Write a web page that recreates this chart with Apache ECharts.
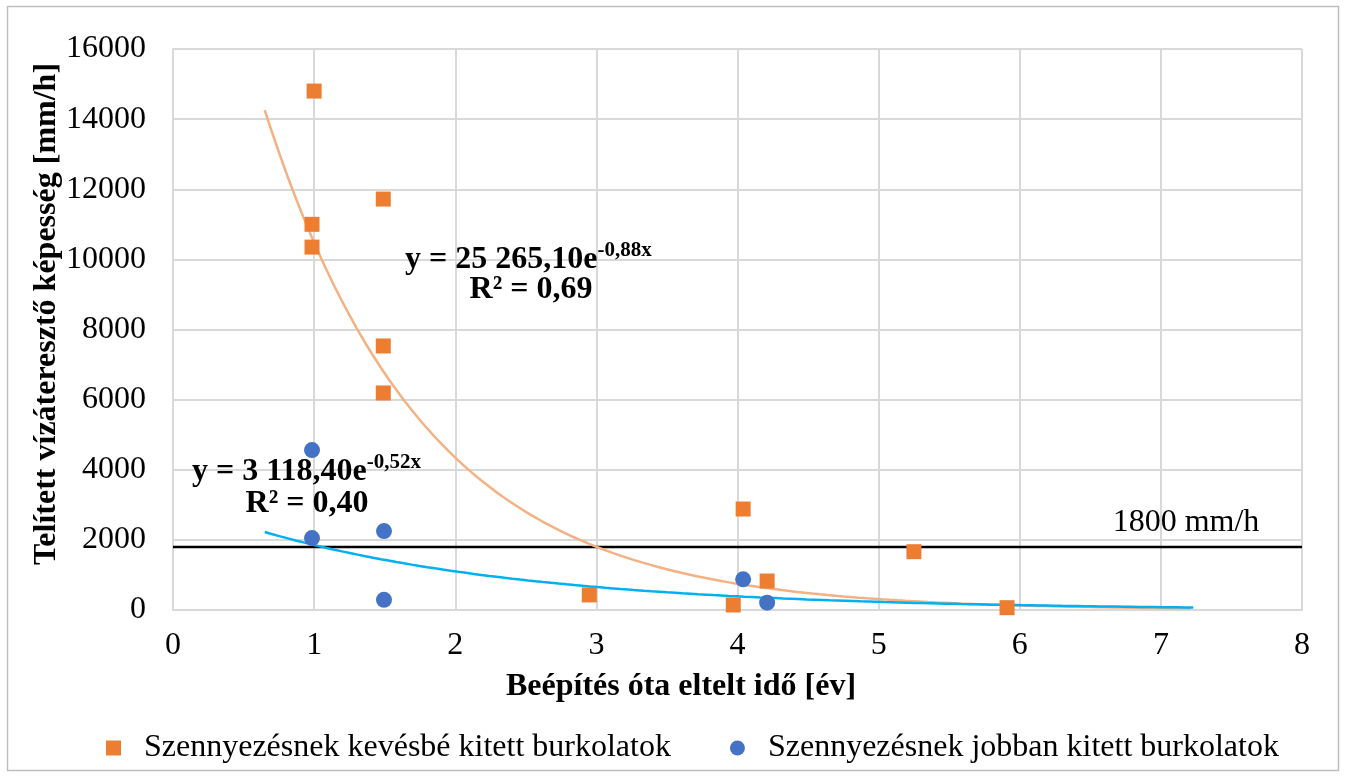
<!DOCTYPE html>
<html><head><meta charset="utf-8">
<script src="https://cdn.jsdelivr.net/npm/echarts@6/dist/echarts.min.js"></script>
<style>html,body{margin:0;padding:0;background:#fff}#c{width:1347px;height:777px}</style>
</head><body><div id="c"></div>
<script>
// Data
const lessX = [1.0, 0.985, 0.985, 1.49, 1.49, 1.49, 2.95, 4.04, 3.97, 4.21, 5.25, 5.91];
const lessY = [14800, 11000, 10350, 11720, 7530, 6190, 430, 2880, 143, 827, 1663, 66];
const moreX = [0.985, 0.985, 1.495, 1.495, 4.04, 4.21];
const moreY = [4560, 2050, 2250, 290, 875, 208];
const lessName = 'Szennyezésnek kevésbé kitett burkolatok';
const moreName = 'Szennyezésnek jobban kitett burkolatok';
// trendline coefficients as printed on the chart
const lessTrend = {a: 25265.10, b: -0.88, from: 0.65, to: 7.21};
const moreTrend = {a: 3118.40, b: -0.52, from: 0.65, to: 7.23};
const threshold = 1800;
const xTicks = [0, 8, 1];
const yTicks = [0, 16000, 2000];

function pairs(xs, ys){ return xs.map((x,i)=>[x, ys[i]]); }
function trend(t){
  const pts=[]; const n=120;
  for(let i=0;i<=n;i++){ const x=t.from+(t.to-t.from)*i/n; pts.push([x, t.a*Math.exp(t.b*x)]); }
  return pts;
}
const F = '"Liberation Serif","Times New Roman",serif';
const chart = echarts.init(document.getElementById('c'), null, {renderer:'canvas'});
chart.setOption({
  animation:false,
  grid:{left:173, top:49, right:45, bottom:167, containLabel:false},
  xAxis:{type:'value', min:xTicks[0], max:xTicks[1], interval:xTicks[2],
    axisLine:{show:true, lineStyle:{color:'#d9d9d9', width:2}}, axisTick:{show:false},
    splitLine:{show:true, lineStyle:{color:'#d9d9d9', width:2}},
    axisLabel:{fontFamily:F, fontSize:32, color:'#000', margin:20, formatter:v=>String(v)}},
  yAxis:{type:'value', min:yTicks[0], max:yTicks[1], interval:yTicks[2],
    axisLine:{show:true, lineStyle:{color:'#d9d9d9', width:2}}, axisTick:{show:false},
    splitLine:{show:true, lineStyle:{color:'#d9d9d9', width:2}},
    axisLabel:{fontFamily:F, fontSize:32, color:'#000', margin:27, formatter:v=>String(v)}},
  legend:{data:[lessName, moreName], top:727, left:101, itemGap:59, itemWidth:15, itemHeight:15,
    textStyle:{fontFamily:F, fontSize:32, color:'#000', padding:[0,0,0,18]}},
  series:[
    {name:'thr', type:'line', data:[[xTicks[0],threshold],[xTicks[1],threshold]], symbol:'none',
      lineStyle:{color:'#000', width:2.5}, z:3, silent:true},
    {name:'lessTrend', type:'line', data:trend(lessTrend), symbol:'none', smooth:false,
      lineStyle:{color:'#F4B183', width:2.5}, z:4, silent:true},
    {name:'moreTrend', type:'line', data:trend(moreTrend), symbol:'none', smooth:false,
      lineStyle:{color:'#00B0F0', width:2.5}, z:4, silent:true},
    {name:lessName, type:'scatter', data:pairs(lessX, lessY), symbol:'rect', symbolSize:15,
      itemStyle:{color:'#ED7D31', opacity:1}, z:5},
    {name:moreName, type:'scatter', data:pairs(moreX, moreY), symbol:'circle', symbolSize:16,
      itemStyle:{color:'#4472C4', opacity:1}, z:5}
  ],
  graphic:[
    {type:'rect', shape:{x:7.5, y:6.5, width:1331, height:764}, style:{fill:null, stroke:'#bfbfbf', lineWidth:1.5}, silent:true, z:-1},
    {type:'text', x:47, y:314, rotation:Math.PI/2, style:{text:'Telített vízáteresztő képesség [mm/h]', font:'bold 32px '+F, fill:'#000', align:'center', verticalAlign:'middle'}},
    {type:'text', x:681, y:687, style:{text:'Beépítés óta eltelt idő [év]', font:'bold 32px '+F, fill:'#000', align:'center', verticalAlign:'middle'}},
    {type:'text', x:1186, y:523, style:{text:'1800 mm/h', font:'32px '+F, fill:'#000', align:'center', verticalAlign:'middle'}},
    {type:'text', x:405, y:240, z:10, style:{text:'{m|y = 25 265,10e}{s|-0,88x}', align:'left', verticalAlign:'top',
      rich:{m:{fontFamily:F, fontWeight:'bold', fontSize:32, lineHeight:36, verticalAlign:'bottom', fill:'#000'},
            s:{fontFamily:F, fontWeight:'bold', fontSize:21, lineHeight:36, verticalAlign:'top', fill:'#000'}}}},
    {type:'text', x:531, y:290, z:10, style:{text:'R² = 0,69', font:'bold 32px '+F, fill:'#000', align:'center', verticalAlign:'middle'}},
    {type:'text', x:192, y:452, z:10, style:{text:'{m|y = 3 118,40e}{s|-0,52x}', align:'left', verticalAlign:'top',
      rich:{m:{fontFamily:F, fontWeight:'bold', fontSize:32, lineHeight:36, verticalAlign:'bottom', fill:'#000'},
            s:{fontFamily:F, fontWeight:'bold', fontSize:21, lineHeight:36, verticalAlign:'top', fill:'#000'}}}},
    {type:'text', x:307, y:504, z:10, style:{text:'R² = 0,40', font:'bold 32px '+F, fill:'#000', align:'center', verticalAlign:'middle'}}
  ]
});
</script></body></html>
